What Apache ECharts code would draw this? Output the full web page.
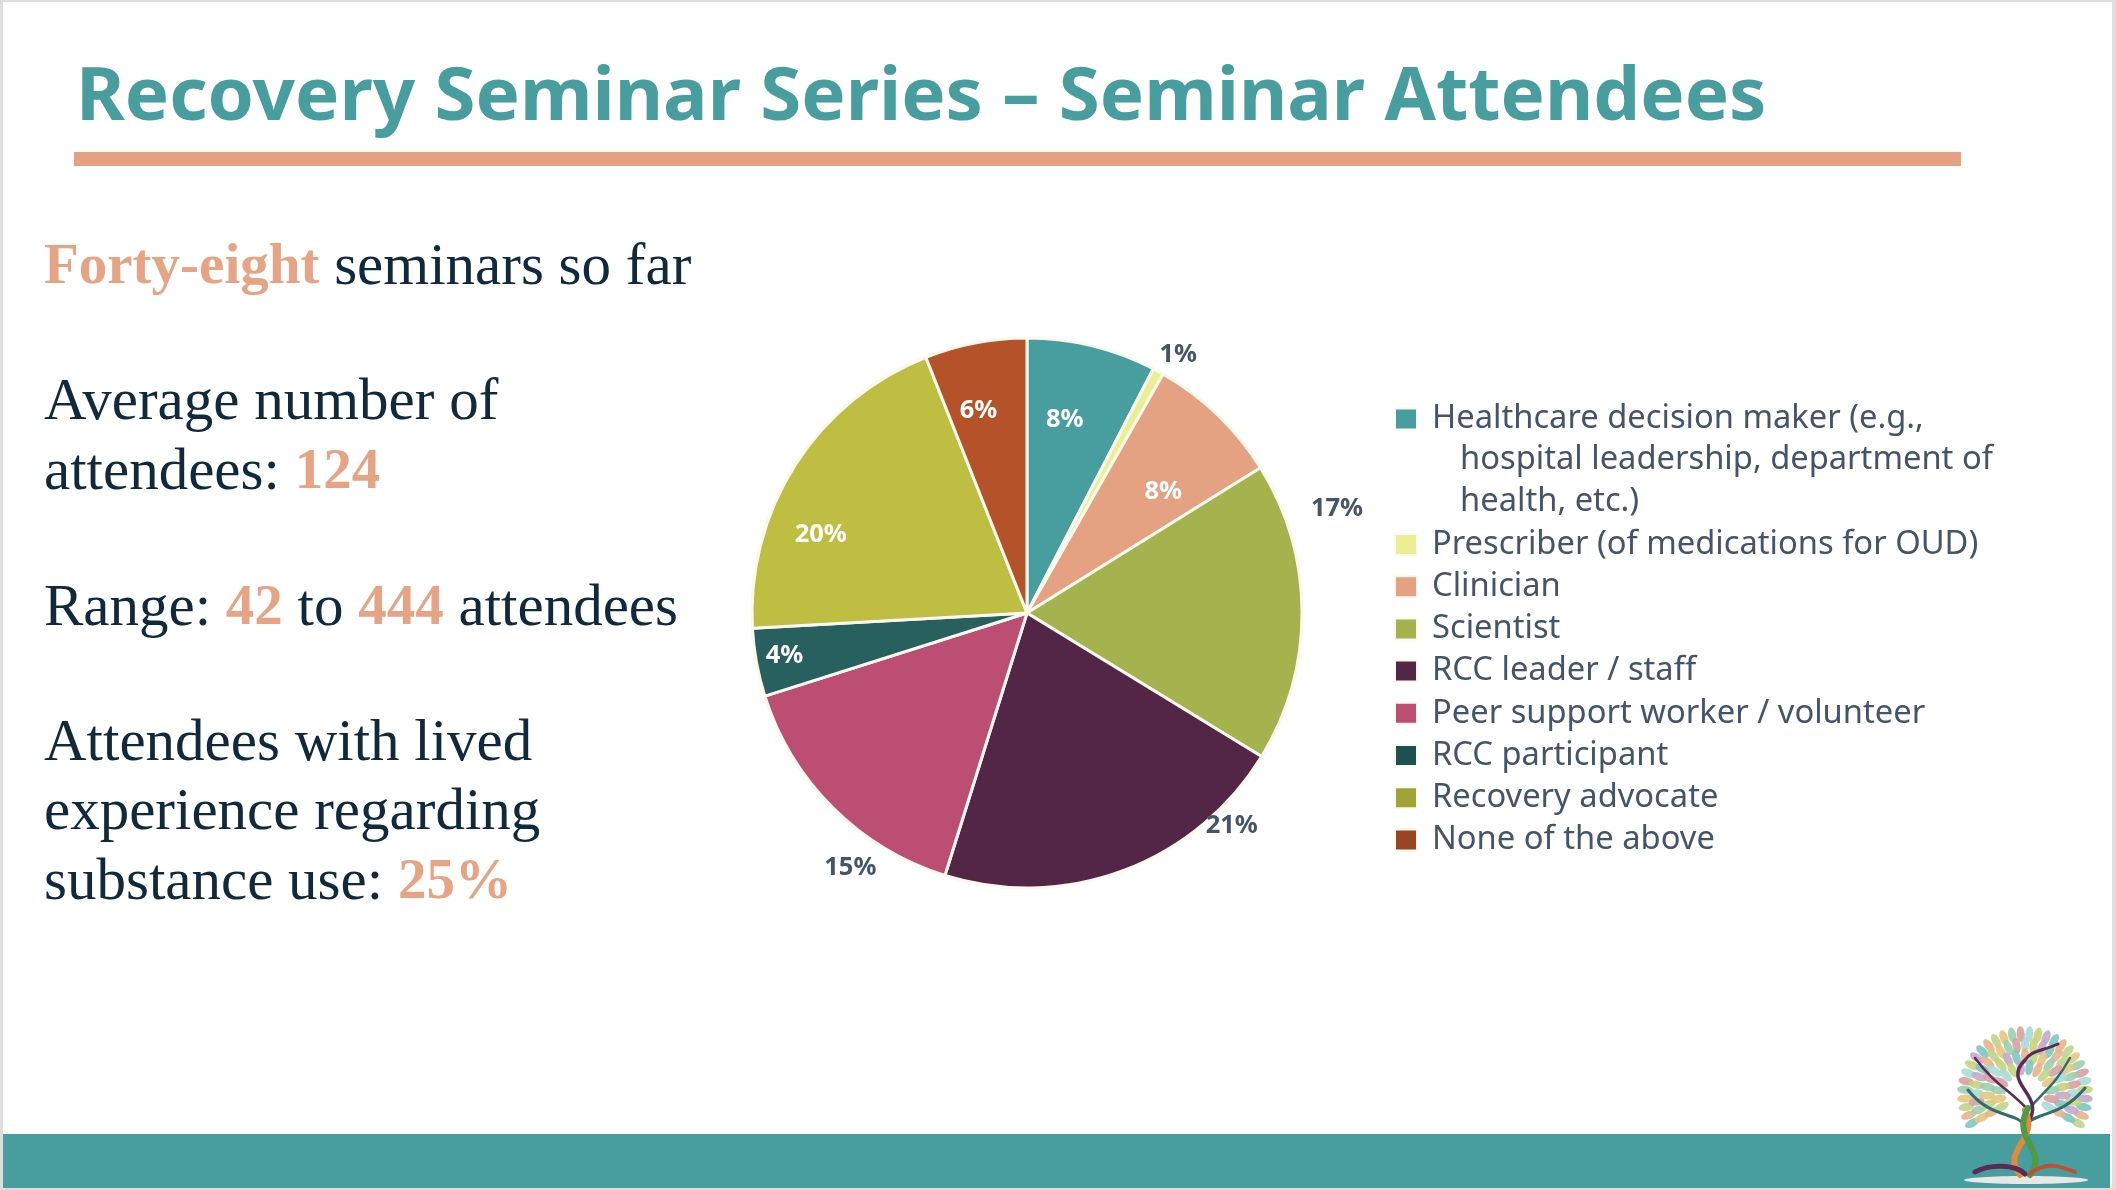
<!DOCTYPE html>
<html><head><meta charset="utf-8">
<style>html,body{margin:0;padding:0;background:#fff}#c{width:2116px;height:1190px}</style>
<script src="https://cdn.jsdelivr.net/npm/echarts@6/dist/echarts.min.js"></script>
</head><body><div id="c"></div>
<script>
// ---- data ----
const categories = ['Healthcare decision maker (e.g.,','Prescriber (of medications for OUD)','Clinician','Scientist','RCC leader / staff','Peer support worker / volunteer','RCC participant','Recovery advocate','None of the above'];
const wrappedLines = ['hospital leadership, department of','health, etc.)'];
const values = [7.6,0.65,7.9,17.6,21.1,15.3,4.0,19.9,6.0];
const pctLabels = ['8%','1%','8%','17%','21%','15%','4%','20%','6%'];
const sliceColors = ['#489D9F','#ECEE93','#E4A283','#A5B34E','#532648','#BC4E74','#285F5F','#BEBF42','#B55229'];
const legendColors = ['#489D9F','#ECEE93','#E4A283','#A5B34E','#532648','#BC4E74','#1F5050','#A0A336','#984322'];
const labelColors = ['#fff','#44546A','#fff','#44546A','#44546A','#44546A','#fff','#fff','#fff'];
const labelAngle = [11,30.3,48,71.3,135.9,214.9,260.2,291.1,346.6];
const labelRadius = [.72,1.09,.667,1.19,1.07,1.123,.895,.804,.76];
const titleText = 'Recovery Seminar Series – Seminar Attendees';
const leftText = [
 ['{o|Forty-eight} {d|seminars so far}',286],
 ['{d|Average number of}',421],
 ['{d|attendees: }{o|124}',491],
 ['{d|Range: }{o|42}{d| to }{o|444}{d| attendees}',627],
 ['{d|Attendees with lived}',762],
 ['{d|experience regarding}',831],
 ['{d|substance use: }{o|25%}',901]
];
// ---- layout ----
const CX=1027, CY=613, R=275;
const W=2116,H=1190;
const sans='"Noto Sans"', serif='"Liberation Serif"';
const SERIF_SIZE=59, BOLD_SIZE=57;
const g=[];
// slide frame
g.push({type:'rect',z:0,shape:{x:0,y:0,width:W,height:H},style:{fill:'#DEDEDE'}});
g.push({type:'rect',z:0,shape:{x:3,y:2,width:2109,height:1186},style:{fill:'#fff'}});
g.push({type:'rect',z:1,shape:{x:74,y:152,width:1887,height:14},style:{fill:'#E4A283'}});
g.push({type:'rect',z:1,shape:{x:3,y:1134,width:2107,height:54},style:{fill:'#489D9F'}});
leftText.forEach(([t,y])=>g.push({type:'text',z:3,x:44,y:y+12,style:{text:t,verticalAlign:'bottom',
  font:SERIF_SIZE+'px '+serif,
  rich:{o:{fill:'#E6A484',font:'bold '+BOLD_SIZE+'px '+serif},d:{fill:'#10293B',font:SERIF_SIZE+'px '+serif}}}}));
wrappedLines.forEach((t,i)=>g.push({type:'text',z:3,x:1460,y:460+i*42,style:{text:t,fill:'#44546A',font:'32.7px '+sans,verticalAlign:'middle'}}));
// logo (tree) approximation
const LX=2025,LY=1094;
const leafPal=['#7CC8C0','#E8B48C','#BFD48A','#E7C77F','#9AD0B0','#D9A0A0','#A8DCD8','#C9D27A','#C7A9C9'];
let k=0;
for(const rr of [60,49,38,27]){
  const n=Math.round(rr*0.5);
  for(let i=0;i<n;i++){
    const a=Math.PI*(-0.16+1.32*i/(n-1));
    const x=LX-rr*Math.cos(a), y=LY-rr*Math.sin(a);
    g.push({type:'ellipse',z:6,x:x,y:y,rotation:-a,shape:{cx:0,cy:0,rx:8,ry:4},style:{fill:leafPal[k++%leafPal.length],opacity:.9}});
  }
}
const branches=[
 [2025,1125,2015,1112,1990,1118,1968,1090,'#2E6E73',3],
 [2025,1125,2040,1110,2060,1118,2085,1088,'#2E6E73',3],
 [2028,1110,2010,1090,1995,1085,1975,1058,'#5B2B55',2.5],
 [2028,1110,2045,1090,2055,1085,2070,1058,'#2E6E73',2.5],
 [2026,1125,2050,1095,2000,1085,2025,1060,'#5B2B55',3.5],
 [2025,1060,2032,1050,2040,1052,2058,1044,'#5B2B55',3],
 [2020,1175,2000,1150,2040,1140,2025,1110,'#E08A3C',6],
 [2030,1175,2050,1150,2010,1140,2028,1108,'#4F9A45',6],
 [2025,1174,2015,1164,1990,1164,1975,1172,'#5B2B55',5],
 [2030,1174,2045,1161,2060,1166,2075,1172,'#C05030',4]
];
branches.forEach(b=>g.push({type:'bezierCurve',z:7,shape:{x1:b[0],y1:b[1],cpx1:b[2],cpy1:b[3],cpx2:b[4],cpy2:b[5],x2:b[6],y2:b[7]},style:{fill:'none',stroke:b[8],lineWidth:b[9],lineCap:'round'}}));
g.push({type:'ellipse',z:6,shape:{cx:2026,cy:1180,rx:62,ry:4},style:{fill:'#E8E8E8'}});

const chart=echarts.init(document.getElementById('c'),null,{renderer:'canvas',width:W,height:H});
const legendBase={orient:'vertical',left:1394,padding:0,itemWidth:22,itemHeight:21,itemGap:0.2,icon:'rect',selectedMode:false,
  textStyle:{color:'#44546A',fontFamily:sans,fontSize:32.7,lineHeight:42,padding:[0,0,0,10]}};
const legendItem=i=>({name:categories[i],itemStyle:{color:legendColors[i]}});
chart.setOption({
  animation:false,
  backgroundColor:'#fff',
  title:{text:titleText,left:71,top:57,textStyle:{color:'#489D9F',fontFamily:sans,fontWeight:'bold',fontSize:74.4}},
  legend:[
    Object.assign({},legendBase,{top:398,data:[legendItem(0)]}),
    Object.assign({},legendBase,{top:523.5,data:categories.slice(1).map((_,i)=>legendItem(i+1))})
  ],
  graphic:{elements:g},
  series:[{
    type:'pie',center:[CX,CY],radius:[0,R],startAngle:90,clockwise:true,avoidLabelOverlap:false,z:4,
    itemStyle:{borderColor:'#FBF8EE',borderWidth:3},
    labelLine:{show:false},
    label:{show:true,position:'inside',fontFamily:sans,fontWeight:'bold',fontSize:25.5,formatter:p=>pctLabels[p.dataIndex]},
    emphasis:{disabled:true},
    labelLayout:p=>{
      const a=labelAngle[p.dataIndex]*Math.PI/180, r=labelRadius[p.dataIndex]*R;
      return {x:CX+r*Math.sin(a),y:CY+1-r*Math.cos(a),align:'center',verticalAlign:'middle'};
    },
    data:categories.map((n,i)=>({name:n,value:values[i],itemStyle:{color:sliceColors[i]},label:{color:labelColors[i]}}))
  }]
});
</script></body></html>
